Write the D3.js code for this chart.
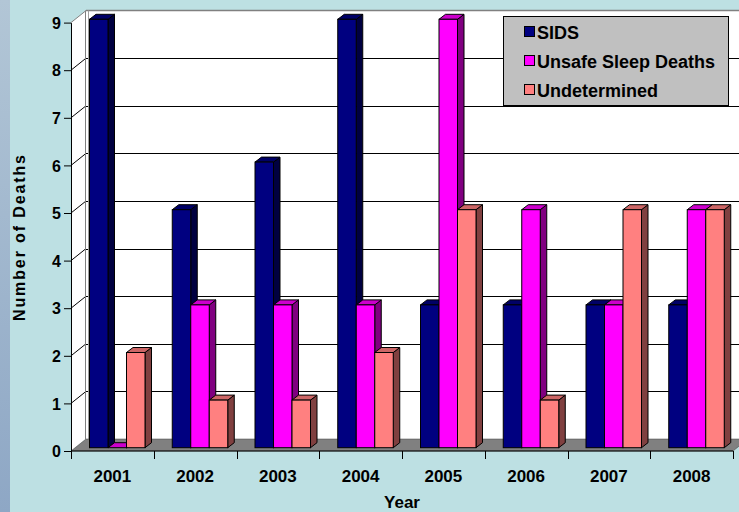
<!DOCTYPE html>
<html>
<head>
<meta charset="utf-8">
<script src="https://cdn.jsdelivr.net/npm/d3@7"></script>
<style>
  body { margin: 0; padding: 0; overflow: hidden; }
  svg { display: block; }
  text { font-family: Arial, "Liberation Sans", sans-serif; font-weight: bold; fill: #000; }
</style>
</head>
<body>
<div id="chart"></div>
<script>
var years = ["2001", "2002", "2003", "2004", "2005", "2006", "2007", "2008"];
var seriesNames = ["SIDS", "Unsafe Sleep Deaths", "Undetermined"];
var sids = [9, 5, 6, 9, 3, 3, 3, 3];
var unsafe = [0, 3, 3, 3, 9, 5, 3, 5];
var undetermined = [2, 1, 1, 2, 5, 1, 5, 5];
var yTicks = [0, 1, 2, 3, 4, 5, 6, 7, 8, 9];

// front / top / side colours per series
var colors = [
  { front: "#000080", top: "#000066", side: "#000040" },
  { front: "#ff00ff", top: "#cc00cc", side: "#800080" },
  { front: "#ff8080", top: "#cc6666", side: "#804040" }
];

var width = 739, height = 512;
var x0 = 71, x1 = 733;           // front floor edge
var DX = 15, DY = 12;            // wall depth
var bdx = 6.5, bdy = 5;          // bar depth
var bShiftY = 3.3;               // bars sit a bit back in the floor

var svg = d3.select("#chart").append("svg")
  .attr("width", width)
  .attr("height", height);

var defs = svg.append("defs");
var grad = defs.append("linearGradient").attr("id", "strip")
  .attr("x1", 0).attr("y1", 0).attr("x2", 0).attr("y2", 1);
grad.append("stop").attr("offset", "0%").attr("stop-color", "#b2c6d6");
grad.append("stop").attr("offset", "100%").attr("stop-color", "#8ea7c5");

svg.append("rect").attr("width", width).attr("height", height).attr("fill", "#bde0e3");
svg.append("rect").attr("width", 10).attr("height", height).attr("fill", "url(#strip)");

var x = d3.scaleBand().domain(years).range([x0, x1]).paddingInner(0).paddingOuter(0);
var inner = d3.scaleBand().domain(seriesNames).range([18.5, 74]);
var y = d3.scaleLinear().domain([0, 9]).range([451, 22.6]);

var yTop = y(9), yBot = y(0);

// left side wall
svg.append("polygon")
  .attr("points", [[x0, yTop], [x0 + DX, yTop - DY], [x0 + DX, yBot - DY], [x0, yBot]].join(" "))
  .attr("fill", "#fff");

// back wall
svg.append("rect")
  .attr("x", x0 + DX).attr("y", yTop - DY)
  .attr("width", width - x0 - DX + 20).attr("height", yBot - yTop)
  .attr("fill", "#fff");

// gridlines on back wall and diagonals on side wall
svg.selectAll(".grid").data(yTicks.slice(1, 9)).enter().append("line")
  .attr("x1", x0 + DX).attr("x2", width)
  .attr("y1", function (d) { return Math.round(y(d) - DY) + 0.5; })
  .attr("y2", function (d) { return Math.round(y(d) - DY) + 0.5; })
  .attr("stroke", "#000").attr("stroke-width", 1);

svg.selectAll(".diag").data(yTicks.slice(1)).enter().append("line")
  .attr("x1", x0).attr("y1", function (d) { return y(d); })
  .attr("x2", x0 + DX).attr("y2", function (d) { return y(d) - DY; })
  .attr("stroke", function (d) { return d === 9 ? "#808080" : "#000"; })
  .attr("stroke-width", 1);

// plot area border (grey)
svg.append("line")
  .attr("x1", x0 + DX).attr("x2", width)
  .attr("y1", yTop - DY).attr("y2", yTop - DY)
  .attr("stroke", "#808080").attr("stroke-width", 1.5);
svg.append("line")
  .attr("x1", x0 + DX - 0.5).attr("x2", x0 + DX - 0.5)
  .attr("y1", yTop - DY).attr("y2", yBot - DY)
  .attr("stroke", "#808080");
svg.append("line")
  .attr("x1", x0 + DX + 2.5).attr("x2", x0 + DX + 2.5)
  .attr("y1", yTop - DY).attr("y2", yBot - DY)
  .attr("stroke", "#a0a0a0");

// floor
svg.append("polygon")
  .attr("points", [[x0, yBot], [x0 + DX, yBot - DY], [x1 + DX, yBot - DY], [x1, yBot]].join(" "))
  .attr("fill", "#808080")
  .attr("stroke", "#404040").attr("stroke-width", 0.5);

// bars
var data = [sids, unsafe, undetermined];
years.forEach(function (yr, i) {
  seriesNames.forEach(function (s, k) {
    var v = data[k][i];
    var c = colors[k];
    var bx = x(yr) + inner(s);
    var bw = inner.bandwidth();
    var top = y(v) - bShiftY;
    var bot = yBot - bShiftY;
    var g = svg.append("g");
    // side face
    g.append("polygon")
      .attr("points", [[bx + bw, top], [bx + bw + bdx, top - bdy], [bx + bw + bdx, bot - bdy], [bx + bw, bot]].join(" "))
      .attr("fill", c.side).attr("stroke", "#000").attr("stroke-width", 1).attr("stroke-linejoin", "round");
    // top face
    g.append("polygon")
      .attr("points", [[bx, top], [bx + bdx, top - bdy], [bx + bw + bdx, top - bdy], [bx + bw, top]].join(" "))
      .attr("fill", c.top).attr("stroke", "#000").attr("stroke-width", 1).attr("stroke-linejoin", "round");
    // front face
    g.append("rect")
      .attr("x", bx).attr("y", top)
      .attr("width", bw).attr("height", bot - top)
      .attr("fill", c.front).attr("stroke", "#000").attr("stroke-width", 1);
  });
});

// y axis
var yAxis = d3.axisLeft(y).tickValues(yTicks).tickSize(7).tickSizeOuter(0).tickPadding(3)
  .tickFormat(d3.format("d"));
var gy = svg.append("g").attr("transform", "translate(" + x0 + ",0)").call(yAxis);
gy.select(".domain").attr("stroke", "#000");
gy.selectAll(".tick line").attr("stroke", "#000");
gy.selectAll(".tick text")
  .attr("font-size", 16).attr("font-family", "Arial, 'Liberation Sans', sans-serif")
  .attr("font-weight", "bold").attr("fill", "#000").attr("dy", "0.36em");

// x axis: line + ticks at category boundaries
var bounds = years.map(function (d) { return x(d); }).concat([x1]);
svg.append("line").attr("x1", x0).attr("x2", x1).attr("y1", yBot).attr("y2", yBot)
  .attr("stroke", "#000");
svg.selectAll(".xtick").data(bounds).enter().append("line")
  .attr("x1", function (d) { return Math.round(d) + 0.5; })
  .attr("x2", function (d) { return Math.round(d) + 0.5; })
  .attr("y1", yBot).attr("y2", yBot + 8)
  .attr("stroke", "#000");
svg.selectAll(".xlab").data(years).enter().append("text")
  .attr("x", function (d) { return x(d) + x.bandwidth() / 2; })
  .attr("y", 482)
  .attr("text-anchor", "middle")
  .attr("font-size", 17)
  .text(function (d) { return d; });

// axis titles
svg.append("text")
  .attr("x", (x0 + x1) / 2).attr("y", 508)
  .attr("text-anchor", "middle").attr("font-size", 17)
  .text("Year");
svg.append("text")
  .attr("transform", "translate(25,238) rotate(-90)")
  .attr("text-anchor", "middle").attr("font-size", 16)
  .attr("textLength", 166).attr("lengthAdjust", "spacing")
  .text("Number of Deaths");

// legend
var lg = svg.append("g");
lg.append("rect").attr("x", 503.5).attr("y", 16.5).attr("width", 225).attr("height", 89)
  .attr("fill", "#c0c0c0").attr("stroke", "#000");
var rows = lg.selectAll(".row").data(seriesNames).enter().append("g")
  .attr("transform", function (d, i) { return "translate(0," + (i * 29) + ")"; });
rows.append("rect")
  .attr("x", 524.5).attr("y", 26.5).attr("width", 10).attr("height", 10)
  .attr("fill", function (d, i) { return colors[i].front; })
  .attr("stroke", "#000");
rows.append("text")
  .attr("x", 537).attr("y", 38.5)
  .attr("font-size", 18)
  .text(function (d) { return d; });
</script>
</body>
</html>
